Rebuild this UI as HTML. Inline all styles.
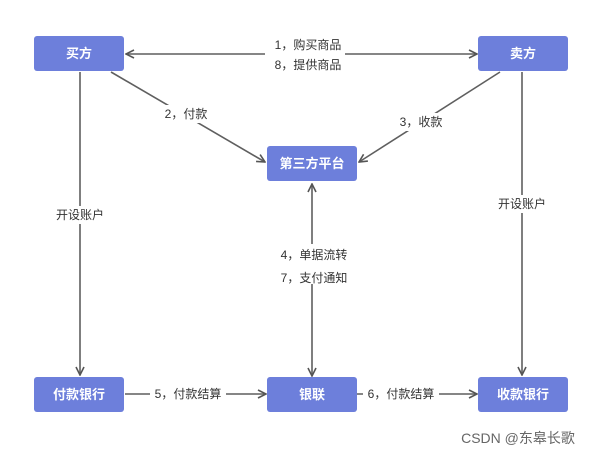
<html><body style="margin:0;background:#fff">
<svg width="603" height="455" xmlns="http://www.w3.org/2000/svg" font-family="Liberation Sans, Noto Sans CJK SC, sans-serif">
<defs><marker id="a" markerWidth="10" markerHeight="10" refX="9" refY="5" orient="auto-start-reverse" markerUnits="userSpaceOnUse"><path d="M1,1 L9,5 L1,9" fill="none" stroke="#555" stroke-width="1.6"/></marker></defs>
<g stroke="#5f5f5f" stroke-width="1.6" fill="none">
<line x1="126" y1="54" x2="477" y2="54" marker-start="url(#a)" marker-end="url(#a)"/>
<line x1="111" y1="72" x2="265" y2="162" marker-end="url(#a)"/>
<line x1="500" y1="72" x2="359" y2="162" marker-end="url(#a)"/>
<line x1="80" y1="72" x2="80" y2="375" marker-end="url(#a)"/>
<line x1="522" y1="72" x2="522" y2="375" marker-end="url(#a)"/>
<line x1="312" y1="375" x2="312" y2="184" marker-end="url(#a)"/>
<line x1="312" y1="375" x2="312" y2="376" marker-end="url(#a)"/>
<line x1="125" y1="394" x2="266" y2="394" marker-end="url(#a)"/>
<line x1="357" y1="394" x2="477" y2="394" marker-end="url(#a)"/>
</g>
<g fill="#6d7fdb">
<rect x="34" y="36" width="90" height="35" rx="3"/>
<rect x="478" y="36" width="90" height="35" rx="3"/>
<rect x="267" y="146" width="90" height="35" rx="3"/>
<rect x="34" y="377" width="90" height="35" rx="3"/>
<rect x="267" y="377" width="90" height="35" rx="3"/>
<rect x="478" y="377" width="90" height="35" rx="3"/>
</g>
<g fill="#fff" font-size="13" font-weight="bold" text-anchor="middle">
<text x="79" y="58">买方</text><text x="523" y="58">卖方</text>
<text x="312" y="168">第三方平台</text><text x="79" y="399">付款银行</text>
<text x="312" y="399">银联</text><text x="523" y="399">收款银行</text>
</g>
<g font-size="12" fill="#333" text-anchor="middle">
<rect x="265" y="36" width="80" height="36" fill="#fff"/>
<text x="308" y="49">1，购买商品</text><text x="308" y="69">8，提供商品</text>
<rect x="160" y="105" width="50" height="18" fill="#fff"/><text x="186" y="118">2，付款</text>
<rect x="395" y="113" width="50" height="18" fill="#fff"/><text x="421" y="126">3，收款</text>
<rect x="50" y="206" width="60" height="18" fill="#fff"/><text x="80" y="219">开设账户</text>
<rect x="492" y="195" width="60" height="18" fill="#fff"/><text x="522" y="208">开设账户</text>
<rect x="272" y="244" width="80" height="40" fill="#fff"/>
<text x="314" y="259">4，单据流转</text><text x="314" y="282">7，支付通知</text>
<rect x="150" y="385" width="76" height="18" fill="#fff"/><text x="188" y="398">5，付款结算</text>
<rect x="363" y="385" width="76" height="18" fill="#fff"/><text x="401" y="398">6，付款结算</text>
<text x="518" y="443" font-size="14" fill="#666">CSDN @东皋长歌</text>
</g>
</svg>
</body></html>
